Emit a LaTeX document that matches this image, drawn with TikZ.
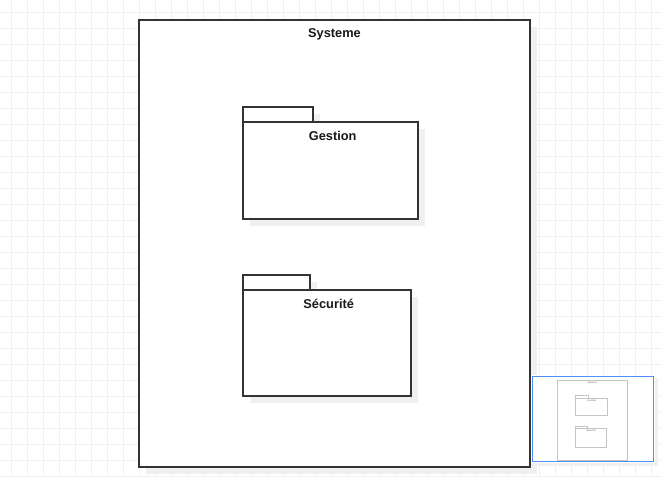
\documentclass[tikz,border=0pt]{standalone}
\usepackage{fontspec}
\setmainfont{Liberation Sans}
\definecolor{gridc}{HTML}{F1F1F1}
\definecolor{shadowc}{HTML}{F0F0F0}
\definecolor{linec}{HTML}{333333}
\definecolor{mapblue}{HTML}{4A90F5}
\definecolor{mapline}{HTML}{C4C4C4}
\tikzset{
  gridline/.style={gridc, line width=0.75pt},
  shadowbox/.style={fill=shadowc, draw=none},
  pkgline/.style={draw=linec, fill=white, line width=0.85pt},
  lbl/.style={font=\bfseries\fontsize{9.6}{12}\selectfont, text=black!90, inner sep=0pt, anchor=base},
  mappkg/.style={draw=mapline, fill=white, line width=0.6pt},
  maplbl/.style={font=\bfseries\fontsize{1.8}{2}\selectfont, text=black!45, inner sep=0pt, anchor=base}
}
\begin{document}
\begin{tikzpicture}[x=0.75pt,y=-0.75pt]
\useasboundingbox (0,0) rectangle (661,476);
\fill[white] (0,0) rectangle (661,476);
% grid
\foreach \i in {0,...,41} \draw[gridline] (11.5+16*\i,0) -- (11.5+16*\i,476);
\foreach \j in {0,...,29} \draw[gridline] (0,12+16*\j) -- (661,12+16*\j);
% system frame
\fill[shadowbox] (146,27) rectangle (537,474);
\draw[pkgline] (139,20) rectangle (530,467);
\node[lbl] (systemelbl) at (334.5,37) {Systeme};
% Gestion package
\fill[shadowbox] (250,114) rectangle (320,129);
\fill[shadowbox] (250,129) rectangle (425,226);
\draw[pkgline] (243,107) rectangle (313,122);
\draw[pkgline] (243,122) rectangle (418,219);
\node[lbl] (gestionlbl) at (332.7,140.5) {Gestion};
% Securite package
\fill[shadowbox] (250,282) rectangle (317,297);
\fill[shadowbox] (250,297) rectangle (418,403);
\draw[pkgline] (243,275) rectangle (310,290);
\draw[pkgline] (243,290) rectangle (411,396);
\node[lbl] (securitelbl) at (328.7,308.5) {Sécurité};
% minimap
\fill[shadowc] (534,378) rectangle (658,466);
\fill[white] (531,375) rectangle (655,463);
\begin{scope}[shift={(532,376.4)}, scale=0.18]
  \draw[mappkg] (139,20) rectangle (530,467);
  \node[maplbl] (mapsys) at (334.5,37) {Systeme};
  \draw[mappkg] (243,107) rectangle (313,122);
  \draw[mappkg] (243,122) rectangle (418,219);
  \node[maplbl] (mapgest) at (332.7,140.5) {Gestion};
  \draw[mappkg] (243,275) rectangle (310,290);
  \draw[mappkg] (243,290) rectangle (411,396);
  \node[maplbl] (mapsec) at (328.7,308.5) {Sécurité};
\end{scope}
\draw[mapblue, line width=1.2pt] (532.5,376.5) rectangle (653.5,461.5);
\end{tikzpicture}
\end{document}
